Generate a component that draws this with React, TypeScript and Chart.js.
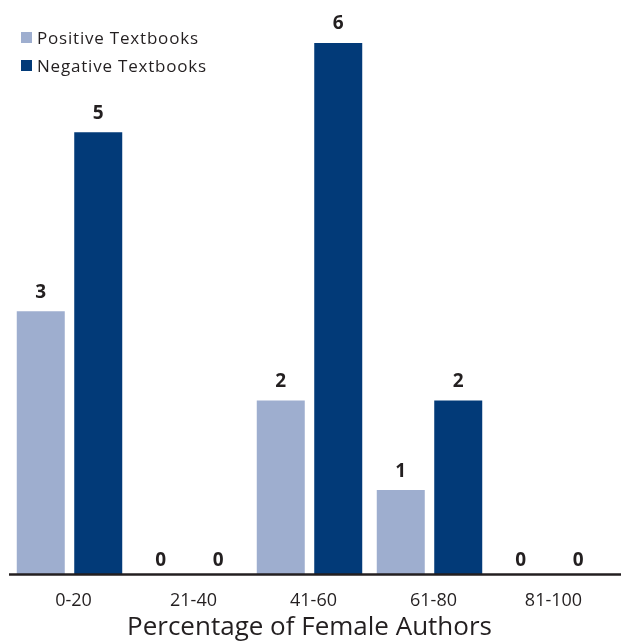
import React, { useEffect, useRef } from "react";
import { Chart, registerables } from "chart.js";

Chart.register(...registerables);

const categories = ["0-20", "21-40", "41-60", "61-80", "81-100"];
const positiveValues = [3, 0, 2, 1, 0];
const negativeValues = [5, 0, 6, 2, 0];
const seriesNames = ["Positive Textbooks", "Negative Textbooks"];
const seriesColors = ["#9eaecf", "#023a78"];
const axisTitle = "Percentage of Female Authors";

const TEXT = "#231f20";
const FONT = "'Open Sans', 'Noto Sans', sans-serif";

const extrasPlugin = {
  id: "extras",
  afterDatasetsDraw(chart: any) {
    const ctx = chart.ctx;
    const x = chart.scales.x;
    ctx.save();
    // axis line
    ctx.strokeStyle = TEXT;
    ctx.lineWidth = 2.5;
    ctx.beginPath();
    ctx.moveTo(9, x.top);
    ctx.lineTo(chart.width, x.top);
    ctx.stroke();
    // value labels
    ctx.fillStyle = TEXT;
    ctx.font = `bold 19px ${FONT}`;
    ctx.textAlign = "center";
    ctx.textBaseline = "alphabetic";
    chart.data.datasets.forEach((ds: any, i: number) => {
      const meta = chart.getDatasetMeta(i);
      meta.data.forEach((el: any, j: number) => {
        ctx.fillText(String(ds.data[j]), el.x, el.y - 13.5);
      });
    });
    // legend
    ctx.font = `17px ${FONT}`;
    (ctx as any).letterSpacing = "0.8px";
    ctx.textAlign = "left";
    chart.data.datasets.forEach((ds: any, i: number) => {
      ctx.fillStyle = ds.backgroundColor;
      ctx.fillRect(21, 32 + i * 28, 11, 11);
      ctx.fillStyle = TEXT;
      ctx.fillText(ds.label, 37, 43.5 + i * 28);
    });
    ctx.restore();
  },
};

export default function App() {
  const ref = useRef<HTMLCanvasElement | null>(null);
  useEffect(() => {
    document.body.style.margin = "0";
    const chart = new Chart(ref.current!, {
      type: "bar",
      data: {
        labels: categories,
        datasets: [
          { label: seriesNames[0], data: positiveValues, backgroundColor: seriesColors[0] },
          { label: seriesNames[1], data: negativeValues, backgroundColor: seriesColors[1] },
        ],
      },
      options: {
        responsive: false,
        animation: false,
        layout: { padding: { top: 7.2, left: 9.5, right: 11.5, bottom: 0 } },
        datasets: { bar: { categoryPercentage: 0.958, barPercentage: 0.835 } },
        plugins: { legend: { display: false }, tooltip: { enabled: false } },
        scales: {
          x: {
            grid: { display: false },
            border: { display: false },
            ticks: { color: TEXT, font: { family: FONT, size: 18 }, padding: 8, labelOffset: 4 },
            title: {
              display: true,
              text: axisTitle,
              color: TEXT,
              font: { family: FONT, size: 26 },
              padding: { top: 0, bottom: 0 },
            },
            afterFit: (axis: any) => {
              axis.height = 68.5;
            },
          },
          y: { display: false, min: 0.055, max: 6.4 },
        },
      },
      plugins: [extrasPlugin],
    } as any);
    return () => chart.destroy();
  }, []);
  return (
    <div style={{ width: 621, height: 643 }}>
      <canvas ref={ref} width={621} height={643} style={{ display: "block" }} />
    </div>
  );
}
